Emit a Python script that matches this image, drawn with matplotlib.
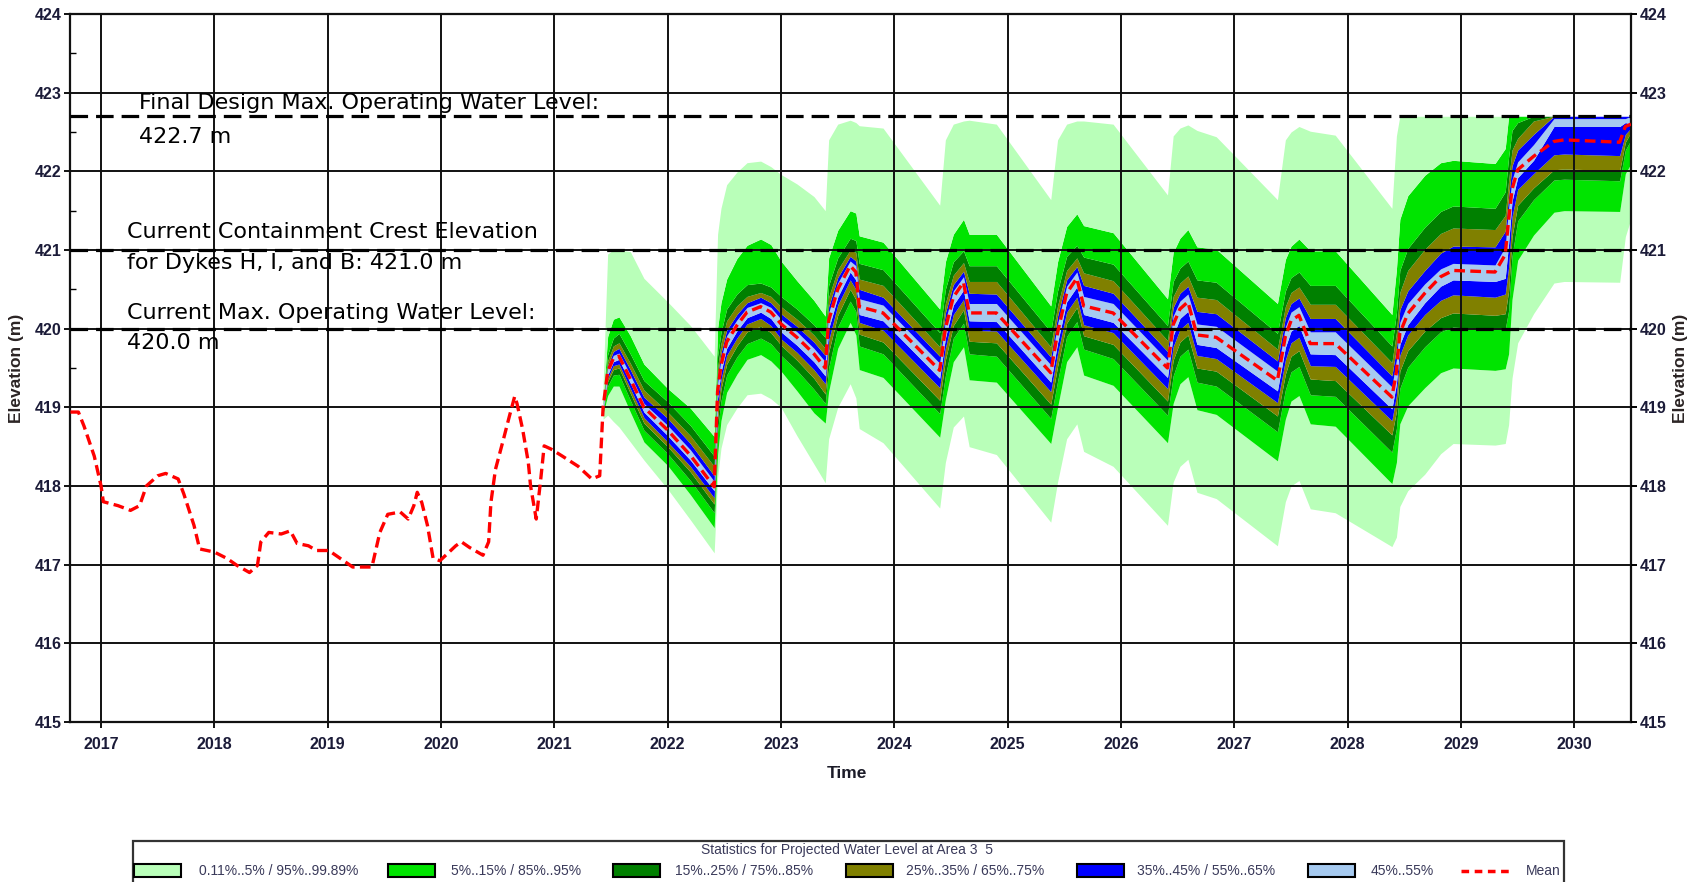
import matplotlib

matplotlib.use('Agg')

import matplotlib.pyplot as plt
import numpy as np
from matplotlib.patches import Rectangle
from matplotlib.lines import Line2D

# ---- data ----
years = list(range(2017, 2031))
elev_ticks = list(range(415, 425))
ref_levels = [422.7, 421.0, 420.0]

hist_t = [2016.73, 2016.80, 2016.85, 2016.94, 2017.00, 2017.02, 2017.15, 2017.26, 2017.34, 2017.40,
          2017.50, 2017.57, 2017.68, 2017.73, 2017.82, 2017.87, 2018.00, 2018.11, 2018.20, 2018.31,
          2018.38, 2018.41, 2018.48, 2018.59, 2018.67, 2018.73, 2018.83, 2018.90, 2019.01, 2019.11,
          2019.22, 2019.39, 2019.46, 2019.53, 2019.64, 2019.71, 2019.76, 2019.79, 2019.83, 2019.88,
          2019.93, 2019.99, 2020.13, 2020.18, 2020.25, 2020.37, 2020.42, 2020.44, 2020.48, 2020.55,
          2020.60, 2020.65, 2020.67, 2020.72, 2020.77, 2020.79, 2020.83, 2020.84, 2020.88, 2020.91,
          2020.97, 2021.07, 2021.21, 2021.33, 2021.40]
hist_v = [418.94, 418.94, 418.76, 418.38, 418.00, 417.80, 417.75, 417.69, 417.75, 418.00,
          418.13, 418.16, 418.09, 417.90, 417.50, 417.20, 417.16, 417.08, 416.99, 416.90,
          416.99, 417.29, 417.41, 417.39, 417.43, 417.27, 417.24, 417.18, 417.18, 417.08,
          416.97, 416.97, 417.41, 417.64, 417.67, 417.58, 417.75, 417.92, 417.79, 417.50,
          417.08, 417.05, 417.24, 417.29, 417.22, 417.12, 417.29, 417.79, 418.21, 418.59,
          418.87, 419.14, 419.05, 418.72, 418.30, 418.00, 417.67, 417.58, 418.09, 418.51,
          418.47, 418.38, 418.25, 418.09, 418.13]

proj_t = [2021.43, 2021.47, 2021.52, 2021.57, 2021.67, 2021.79, 2022.00, 2022.20, 2022.41,
          2022.44, 2022.47, 2022.52, 2022.61, 2022.70, 2022.82, 2022.91, 2023.00, 2023.14, 2023.29, 2023.39,
          2023.42, 2023.50, 2023.61, 2023.66, 2023.69, 2023.90, 2024.40,
          2024.45, 2024.52, 2024.61, 2024.66, 2024.90, 2025.38,
          2025.44, 2025.52, 2025.61, 2025.67, 2025.93, 2026.41,
          2026.46, 2026.52, 2026.59, 2026.67, 2026.84, 2027.38,
          2027.45, 2027.50, 2027.57, 2027.67, 2027.89, 2028.39,
          2028.43, 2028.46, 2028.53, 2028.68, 2028.82, 2028.93, 2029.30, 2029.39,
          2029.42, 2029.45, 2029.50, 2029.64, 2029.82, 2029.91, 2030.40, 2030.45, 2030.50]
proj_mean = [419.00, 419.45, 419.62, 419.65, 419.36, 419.00, 418.71, 418.39, 417.99,
             419.20, 419.53, 419.83, 420.04, 420.21, 420.28, 420.21, 420.06, 419.89, 419.68, 419.50,
             420.10, 420.50, 420.80, 420.72, 420.28, 420.20, 419.47,
             420.00, 420.40, 420.59, 420.20, 420.20, 419.44,
             419.95, 420.45, 420.64, 420.29, 420.20, 419.50,
             420.05, 420.25, 420.34, 419.92, 419.89, 419.34,
             419.90, 420.10, 420.17, 419.81, 419.81, 419.13,
             419.45, 419.94, 420.19, 420.45, 420.66, 420.74, 420.72, 420.94,
             421.38, 421.77, 422.02, 422.19, 422.38, 422.40, 422.37, 422.57, 422.60]

# distance of each percentile edge above the mean (m)
q55_above = [.02, .04, .04, .04, .05, .05, .06, .07, .07,
             .10, .08, .08, .07, .06, .05, .06, .06, .07, .07, .08,
             .10, .08, .06, .08, .10, .10, .09,
             .10, .08, .07, .12, .12, .10,
             .11, .09, .08, .12, .12, .10,
             .11, .10, .10, .14, .14, .12,
             .12, .11, .11, .15, .15, .13,
             .15, .14, .13, .12, .10, .09, .09, .10,
             .15, .12, .10, .15, .29, .27, .30, .10, .10]
q65_above = [.03, .08, .09, .10, .12, .13, .15, .15, .14,
             .20, .16, .15, .14, .12, .12, .12, .13, .14, .15, .16,
             .18, .15, .12, .14, .22, .20, .18,
             .20, .16, .14, .25, .24, .20,
             .21, .17, .15, .26, .25, .21,
             .22, .20, .20, .30, .30, .25,
             .24, .22, .22, .32, .32, .27,
             .30, .30, .29, .29, .30, .31, .32, .30,
             .30, .30, .25, .28, .32, .30, .33, .13, .10]
q75_above = [.04, .14, .16, .17, .20, .22, .23, .25, .26,
             .30, .28, .27, .25, .20, .18, .20, .22, .23, .24, .25,
             .30, .25, .20, .25, .35, .35, .30,
             .32, .28, .25, .40, .40, .33,
             .34, .29, .26, .42, .41, .35,
             .36, .33, .33, .48, .48, .40,
             .38, .36, .36, .50, .50, .44,
             .50, .52, .55, .56, .55, .54, .54, .50,
             .50, .50, .40, .45, .32, .30, .33, .13, .10]
q85_above = [.05, .22, .26, .29, .32, .34, .36, .38, .39,
             .45, .42, .42, .40, .35, .30, .32, .35, .36, .37, .39,
             .45, .40, .35, .40, .55, .55, .48,
             .50, .45, .40, .60, .60, .52,
             .53, .47, .42, .62, .62, .54,
             .55, .52, .52, .70, .70, .60,
             .58, .55, .55, .74, .74, .65,
             .75, .80, .83, .84, .83, .82, .81, .80,
             .80, .75, .60, .51, .32, .30, .33, .13, .10]
q95_above = [.08, .45, .50, .50, .55, .55, .53, .60, .64,
             .80, .80, .80, .85, .85, .86, .86, .80, .72, .68, .66,
             .80, .75, .70, .75, .90, .90, .78,
             .85, .80, .80, 1.00, 1.00, .85,
             .90, .85, .82, 1.02, 1.02, .88,
             .92, .90, .92, 1.12, 1.12, .98,
             .98, .95, .97, 1.18, 1.18, 1.05,
             1.30, 1.45, 1.50, 1.50, 1.45, 1.40, 1.38, 1.35,
             1.40, 1.00, .70, .51, .32, .30, .33, .13, .10]
q9989_above = [.30, 1.50, 1.38, 1.35, 1.62, 1.64, 1.63, 1.65, 1.66,
               2.00, 2.00, 2.00, 1.95, 1.90, 1.85, 1.85, 1.90, 1.95, 2.00, 2.00,
               2.30, 2.10, 1.85, 1.90, 2.30, 2.35, 2.10,
               2.40, 2.20, 2.05, 2.45, 2.40, 2.20,
               2.45, 2.15, 2.00, 2.35, 2.40, 2.20,
               2.40, 2.30, 2.25, 2.60, 2.55, 2.30,
               2.50, 2.40, 2.40, 2.70, 2.65, 2.40,
               3.00, 2.80, 2.60, 2.30, 2.10, 2.00, 2.00, 1.80,
               1.40, 1.00, .70, .51, .32, .30, .33, .13, .10]

# distance of each percentile edge below the mean (m)
q45_below = [.02, .04, .04, .04, .05, .06, .07, .06, .05,
             .08, .08, .08, .07, .07, .07, .08, .10, .10, .10, .10,
             .10, .10, .08, .10, .10, .10, .10,
             .12, .10, .10, .10, .11, .12,
             .13, .11, .11, .11, .12, .12,
             .14, .12, .12, .12, .13, .13,
             .14, .13, .13, .13, .14, .15,
             .15, .14, .14, .12, .12, .12, .12, .30,
             .30, .15, .10, .05, -.19, -.17, -.20, -.05, .00]
q35_below = [.03, .08, .09, .10, .12, .13, .15, .14, .14,
             .20, .18, .17, .16, .15, .15, .17, .19, .19, .20, .20,
             .25, .20, .18, .22, .20, .22, .22,
             .25, .22, .22, .22, .23, .24,
             .27, .24, .24, .24, .25, .26,
             .28, .26, .26, .26, .27, .28,
             .30, .28, .28, .28, .29, .30,
             .30, .28, .27, .27, .30, .31, .32, .50,
             .60, .35, .25, .22, .17, .18, .17, .10, .05]
q25_below = [.04, .12, .14, .15, .18, .20, .21, .21, .22,
             .35, .30, .28, .26, .25, .25, .26, .27, .29, .31, .33,
             .40, .33, .30, .35, .35, .37, .38,
             .40, .36, .35, .36, .38, .40,
             .43, .38, .37, .38, .40, .42,
             .45, .42, .42, .42, .43, .45,
             .48, .45, .45, .45, .47, .48,
             .50, .48, .47, .48, .52, .54, .55, .75,
             .90, .60, .45, .40, .36, .37, .36, .20, .10]
q15_below = [.05, .18, .21, .23, .27, .29, .30, .32, .33,
             .50, .45, .42, .40, .40, .40, .40, .40, .42, .45, .45,
             .60, .48, .45, .50, .50, .52, .55,
             .60, .52, .52, .52, .55, .58,
             .62, .55, .55, .55, .58, .60,
             .65, .60, .60, .60, .62, .65,
             .68, .65, .65, .65, .67, .70,
             .72, .70, .68, .68, .70, .72, .73, .95,
             1.15, .85, .65, .55, .49, .50, .49, .30, .20]
q05_below = [.08, .30, .35, .38, .42, .44, .45, .50, .52,
             .80, .70, .64, .62, .60, .61, .62, .60, .68, .75, .70,
             .90, .75, .72, .80, .80, .82, .85,
             .90, .82, .82, .85, .88, .90,
             .95, .87, .87, .88, .92, .95,
             1.00, .95, .95, .95, .98, 1.02,
             1.05, 1.02, 1.02, 1.02, 1.05, 1.10,
             1.15, 1.15, 1.17, 1.20, 1.22, 1.24, 1.25, 1.45,
             1.70, 1.40, 1.15, 1.00, .90, .90, .88, .60, .50]
q011_below = [.15, .55, .80, .90, .80, .67, .75, .82, .84,
              1.10, 1.05, 1.05, 1.05, 1.05, 1.10, 1.10, 1.06, 1.25, 1.40, 1.46,
              1.50, 1.50, 1.50, 1.60, 1.55, 1.65, 1.75,
              1.70, 1.65, 1.70, 1.70, 1.80, 1.90,
              1.90, 1.85, 1.85, 1.85, 1.95, 2.00,
              2.00, 2.00, 2.00, 2.00, 2.05, 2.10,
              2.10, 2.10, 2.10, 2.10, 2.15, 1.90,
              2.10, 2.20, 2.25, 2.30, 2.25, 2.20, 2.20, 2.40,
              2.60, 2.40, 2.20, 2.00, 1.80, 1.80, 1.78, 1.40, 1.20]

legend_labels = ['0.11%..5% / 95%..99.89%', '5%..15% / 85%..95%', '15%..25% / 75%..85%',
                 '25%..35% / 65%..75%', '35%..45% / 55%..65%', '45%..55%']
c_lgreen, c_green, c_dgreen, c_olive, c_blue, c_lblue = '#b9ffb9', '#00e400', '#008000', '#808000', '#0000ff', '#a6caf0'
legend_colors = [c_lgreen, c_green, c_dgreen, c_olive, c_blue, c_lblue]

# ---- figure ----
W, H = 1702, 882
fig = plt.figure(figsize=(W / 100, H / 100), dpi=100)
ax = fig.add_axes([70 / W, 1 - 722 / H, (1631 - 70) / W, (722 - 14) / H])

t = np.array(proj_t)
m = np.array(proj_mean)
edges = [m - np.array(q011_below), m - np.array(q05_below), m - np.array(q15_below),
         m - np.array(q25_below), m - np.array(q35_below), m - np.array(q45_below),
         m + np.array(q55_above), m + np.array(q65_above), m + np.array(q75_above),
         m + np.array(q85_above), m + np.array(q95_above), m + np.array(q9989_above)]
edges = [np.minimum(e, ref_levels[0]) for e in edges]
band_colors = [c_lgreen, c_green, c_dgreen, c_olive, c_blue, c_lblue,
               c_blue, c_olive, c_dgreen, c_green, c_lgreen]
for i, col in enumerate(band_colors):
    ax.fill_between(t, edges[i], edges[i + 1], color=col, lw=0, zorder=1)

ax.set_xlim(2016.726, 2030.50)
ax.set_ylim(415, 424)
ax.set_xticks(years)
ax.set_yticks(elev_ticks)
ax.set_yticks(np.arange(419.5, 424, 1.0), minor=True)
ax.set_axisbelow(False)
ax.grid(True, which='major', color='#111111', lw=1.4)

for lv in ref_levels:
    ax.axhline(lv, color='black', lw=2.3, ls=(0, (5.5, 2.5)), zorder=3)

mean_t = hist_t + proj_t
mean_v = hist_v + proj_mean
ax.plot(mean_t, mean_v, color='#ff0000', lw=2.4, ls=(0, (3.2, 1.6)), zorder=4)

tick_font = dict(family=['Liberation Sans Narrow', 'Liberation Sans', 'DejaVu Sans'], weight='bold', size=11.5)
label_color = '#1b1b38'
ax.set_xticklabels([str(y) for y in years], color=label_color, **tick_font)
ax.set_yticklabels([str(v) for v in elev_ticks], color=label_color, **tick_font)
ax.tick_params(axis='both', which='major', length=4, width=1.4, pad=2, color='#111111')
ax.tick_params(axis='x', pad=7)
ax.tick_params(axis='y', which='minor', direction='in', length=4, width=1.0)
for s in ax.spines.values():
    s.set_linewidth(1.6)
    s.set_color('#111111')

ax2 = ax.twinx()
ax2.set_ylim(415, 424)
ax2.set_yticks(elev_ticks)
ax2.set_yticklabels([str(v) for v in elev_ticks], color=label_color, **tick_font)
ax2.tick_params(axis='y', length=4, width=1.4, pad=2)
for s in ax2.spines.values():
    s.set_visible(False)

label_font = dict(family=['Liberation Sans Narrow', 'Liberation Sans', 'DejaVu Sans'], weight='bold', size=12.5)
fig.text(17 / W, 1 - 368 / H, 'Elevation (m)', rotation=90, ha='center', va='center', color='#2b2424', **label_font)
fig.text(1681 / W, 1 - 368 / H, 'Elevation (m)', rotation=90, ha='center', va='center', color='#2b2424', **label_font)
fig.text(847 / W, 1 - 773 / H, 'Time', ha='center', va='center', color='#1b1b28', **label_font)

# ---- annotations ----
ann_font = dict(family='DejaVu Sans', size=16, color='black', va='center', ha='left', zorder=5)
ann_lines = [(139, 103, 'Final Design Max. Operating Water Level:'),
             (139, 137, '422.7 m'),
             (127, 232, 'Current Containment Crest Elevation'),
             (127, 263, 'for Dykes H, I, and B: 421.0 m'),
             (127, 313, 'Current Max. Operating Water Level:'),
             (127, 343, '420.0 m')]
for px, py, txt in ann_lines:
    ax.text((px - 70) / 1561, (722 - py) / 708, txt, transform=ax.transAxes, **ann_font)

# ---- legend box ----
fig.patches.append(Rectangle((133 / W, -0.02), (1564 - 133) / W, (882 - 841) / H + 0.02,
                             transform=fig.transFigure, facecolor='white', edgecolor='#333333', lw=1.6))
leg_font = dict(family=['Liberation Sans Narrow', 'Liberation Sans', 'DejaVu Sans'], size=10, color='#3a3a5a')
fig.text(847 / W, 1 - 850 / H, 'Statistics for Projected Water Level at Area 3  5', ha='center', va='center', **leg_font)
sw_x = [134, 388, 613, 846, 1077, 1308]
tx_x = [199, 451, 675, 906, 1137, 1371]
for sx, tx, col, lab in zip(sw_x, tx_x, legend_colors, legend_labels):
    fig.patches.append(Rectangle((sx / W, 1 - 877 / H), 47 / W, 13 / H, transform=fig.transFigure,
                                 facecolor=col, edgecolor='black', lw=1.5))
    fig.text(tx / W, 1 - 871 / H, lab, ha='left', va='center', **leg_font)
fig.lines.append(Line2D([1461 / W, 1512 / W], [1 - 871 / H] * 2, transform=fig.transFigure,
                        color='#ff0000', lw=2.5, ls=(0, (2.2, 1.6))))
fig.text(1526 / W, 1 - 871 / H, 'Mean', ha='left', va='center', **leg_font)

fig.savefig('out.png', dpi=100)
